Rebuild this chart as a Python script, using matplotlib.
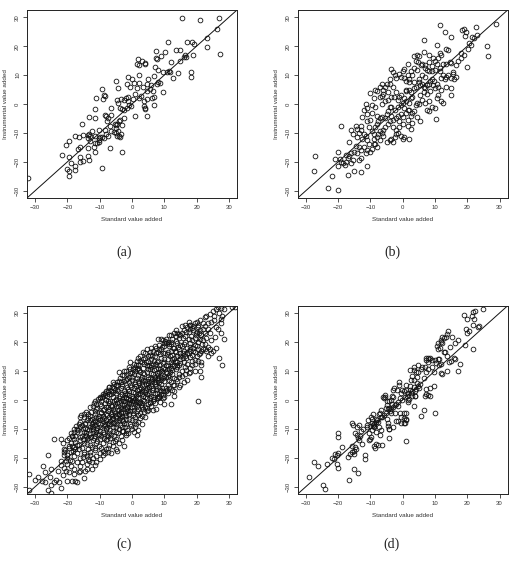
import matplotlib
matplotlib.use("Agg")
import matplotlib.pyplot as plt
import numpy as np

# ---- data (standard value added, instrumental value added) ----
pts_a = [
    (15.4, 29.7), (21.2, 28.9), (26.8, 29.7), (26.2, 26.0), (11.0, 21.4), (17.0, 21.4), (18.5, 21.3),
    (19.3, 20.6), (23.3, 22.7), (23.2, 19.6), (27.3, 17.4), (13.5, 18.8), (14.8, 18.8), (16.3, 17.0),
    (16.1, 16.2), (16.8, 16.3), (18.9, 16.8), (15.0, 15.0), (12.0, 14.4), (10.1, 17.9), (7.3, 18.2),
    (7.3, 15.8), (7.7, 15.7), (9.0, 16.5), (1.8, 15.7), (3.0, 14.8), (4.1, 14.3), (4.0, 13.9),
    (1.4, 14.0), (2.2, 13.4), (7.1, 12.9), (8.1, 11.6), (9.6, 11.0), (10.7, 11.2), (11.3, 11.5),
    (11.8, 11.0), (14.1, 10.8), (12.8, 8.9), (18.3, 10.9), (18.4, 9.2), (2.1, 10.0), (-1.3, 9.5),
    (0.0, 8.7), (-5.0, 7.8), (-1.5, 6.8), (-0.7, 6.0), (-4.2, 5.5), (0.7, 7.3), (1.4, 5.6),
    (2.1, 7.1), (3.3, 6.0), (5.1, 8.5), (6.8, 9.7), (6.0, 6.5), (4.5, 6.8), (5.7, 5.2), (4.5, 4.6),
    (6.4, 4.6), (7.6, 6.9), (8.0, 7.6), (8.6, 7.4), (9.6, 4.2), (6.1, 2.1), (6.8, 2.4), (2.3, 2.2),
    (2.9, 2.7), (3.7, 1.0), (4.6, 1.9), (0.9, 3.3), (0.3, 1.9), (-1.1, 2.4), (-1.8, 2.1), (-2.5, 1.3),
    (-3.3, 1.9), (-4.6, 1.3), (-4.4, 0.5), (-9.1, 1.9), (-8.8, 3.1), (-8.3, 2.7), (-9.4, 5.3),
    (-11.0, 2.2), (-1.2, 0.9), (-0.3, -0.7), (-1.0, -0.2), (3.8, -0.8), (4.0, -1.3), (4.1, -1.6),
    (6.7, -0.5), (-1.7, -1.4), (-3.7, -1.5), (-3.2, -1.8), (-2.6, -2.1), (-6.6, -1.5), (-11.4, -1.6),
    (0.8, -4.1), (4.5, -4.0), (-2.4, -4.8), (-13.4, -4.5), (-11.6, -5.0), (-8.3, -3.7), (-7.9, -4.2),
    (-7.3, -4.8), (-6.4, -3.9), (-7.6, -6.0), (-5.3, -6.9), (-5.0, -7.3), (-4.5, -6.9), (-4.0, -6.0),
    (-3.7, -5.5), (-3.0, -7.1), (-15.5, -6.9), (-6.7, -7.6), (-4.8, -8.4), (-4.2, -9.4), (-12.3, -9.4),
    (-10.1, -8.9), (-8.5, -8.9), (-6.5, -9.3), (-5.5, -9.6), (-5.1, -10.1), (-3.4, -10.4), (-3.9, -11.0),
    (-3.7, -11.5), (-4.6, -11.0), (-7.3, -10.9), (-7.9, -10.3), (-15.1, -10.8), (-13.7, -10.8),
    (-13.3, -10.5), (-13.0, -11.2), (-11.4, -11.2), (-10.3, -11.7), (-9.8, -11.5), (-9.2, -11.5),
    (-8.8, -11.7), (-17.7, -11.0), (-16.4, -11.5), (-13.7, -11.9), (-13.1, -12.7), (-11.3, -13.5),
    (-10.8, -13.5), (-10.3, -13.3), (-10.1, -12.6), (-11.9, -15.0), (-16.2, -14.8), (-16.8, -15.5),
    (-13.7, -15.2), (-6.9, -15.3), (-3.1, -16.5), (-11.6, -16.6), (-20.3, -14.1), (-19.6, -12.7),
    (-21.8, -17.5), (-19.6, -18.2), (-13.5, -17.9), (-13.4, -19.5), (-16.1, -18.4), (-16.2, -19.9),
    (-15.1, -19.6), (-18.8, -20.4), (-17.7, -21.6), (-17.5, -22.7), (-20.1, -22.5), (-19.6, -23.1),
    (-19.6, -25.0), (-9.4, -22.3), (-32.2, -25.5),
]

pts_b = [
    (11.5, 27.3), (13.2, 25.0), (18.5, 25.5), (19.0, 25.8), (19.5, 25.0), (22.8, 26.5), (29.0, 27.5),
    (19.2, 23.5), (21.5, 23.0), (22.0, 22.8), (23.0, 24.0), (20.5, 21.0), (21.0, 20.5), (26.0, 20.2),
    (15.0, 23.0), (6.5, 22.0), (10.5, 20.3), (13.5, 19.0), (14.0, 18.5), (12.0, 17.0), (8.0, 17.0),
    (9.5, 16.0), (6.7, 18.0), (4.5, 17.0), (3.5, 16.5), (5.0, 16.5), (4.0, 15.0), (4.8, 14.5),
    (5.8, 13.6), (12.5, 14.0), (13.3, 14.0), (14.5, 14.5), (14.8, 14.2), (16.5, 13.5), (17.0, 15.0),
    (18.0, 17.5), (19.0, 17.0), (18.0, 16.0), (19.8, 12.8), (26.5, 16.5), (20.2, 19.0), (11.0, 16.0),
    (10.0, 15.0), (9.2, 13.0), (11.5, 12.5), (11.5, 11.5), (10.0, 11.8), (9.0, 11.5), (8.0, 11.5),
    (7.5, 11.8), (7.0, 12.5), (4.3, 11.8), (3.5, 12.5), (2.5, 11.5), (3.0, 10.0), (1.5, 10.0),
    (2.0, 8.5), (1.0, 8.0), (0.0, 11.5), (0.5, 9.0), (-0.5, 9.5), (-1.0, 10.5), (-2.5, 10.0),
    (-3.5, 12.0), (-3.0, 11.0), (-2.0, 9.0), (-4.0, 8.5), (-5.0, 7.0), (-5.5, 6.0), (-6.0, 4.8),
    (-7.0, 5.8), (-8.0, 4.5), (-6.3, 2.8), (-7.0, 2.5), (-9.0, 2.0), (-10.2, 3.8), (-11.5, 0.0),
    (-12.0, -2.0), (-11.0, -1.5), (-9.5, -0.3), (-8.5, -1.0), (-6.5, 0.0), (-4.5, 1.5), (-5.5, 1.0),
    (-3.5, 2.5), (-2.8, 2.3), (-1.5, 1.5), (-1.0, 2.5), (-0.5, 3.0), (0.5, 2.0), (1.0, 1.0),
    (2.0, 0.5), (2.5, 2.0), (3.0, 2.5), (1.0, 4.5), (2.0, 5.0), (2.5, 4.0), (3.5, 5.5), (4.0, 6.0),
    (5.0, 7.5), (5.5, 6.5), (6.0, 7.0), (6.5, 6.0), (7.0, 5.5), (7.5, 6.5), (8.0, 7.0), (8.5, 8.0),
    (9.0, 8.5), (9.8, 8.0), (10.5, 7.0), (11.0, 6.0), (10.0, 5.5), (9.5, 6.5), (12.0, 9.0),
    (12.5, 10.0), (13.0, 8.5), (13.5, 9.5), (14.0, 10.0), (15.0, 9.0), (15.5, 10.5), (16.0, 8.5),
    (13.5, 6.0), (15.0, 5.5), (12.0, 5.0), (11.0, 3.0), (10.5, 2.0), (12.0, 1.0), (12.5, 0.5),
    (10.0, -1.5), (8.0, -2.5), (7.5, -2.0), (9.0, -1.0), (8.0, 1.0), (7.0, 0.5), (6.0, 1.5),
    (5.0, 0.0), (4.0, -0.5), (3.5, -2.5), (4.5, 0.5), (6.5, 4.0), (5.5, 3.0), (7.5, 3.5), (8.5, 4.5),
    (7.0, 9.5), (6.0, 10.0), (5.0, 8.5), (3.5, 7.5), (2.0, 7.5), (10.3, -5.3), (5.5, -6.0),
    (4.5, -4.5), (3.0, -6.5), (2.5, -8.5), (2.0, -12.0), (0.5, -11.5), (0.0, -12.0), (-0.5, -11.0),
    (-1.5, -10.0), (-2.0, -10.5), (-2.5, -11.5), (-3.5, -12.0), (-3.0, -13.0), (-4.0, -12.5),
    (-2.0, -9.0), (-1.0, -8.0), (0.0, -7.0), (1.5, -7.5), (1.5, -5.5), (2.5, -4.0), (3.0, -3.0),
    (0.0, -4.5), (-0.5, -3.5), (-1.5, -4.0), (-2.0, -5.0), (-3.0, -5.5), (-3.5, -4.0), (-4.0, -6.0),
    (-4.5, -7.0), (-5.5, -8.0), (-6.0, -9.0), (-6.5, -10.0), (-7.0, -9.5), (-7.5, -10.5),
    (-7.0, -12.5), (-8.0, -11.5), (-9.0, -12.0), (-8.5, -14.0), (-9.5, -15.5), (-8.0, -15.0),
    (-10.5, -14.0), (-11.0, -12.5), (-11.5, -11.0), (-12.0, -10.5), (-12.5, -12.0), (-13.0, -9.0),
    (-13.5, -10.0), (-14.0, -11.5), (-14.5, -7.5), (-14.0, -8.5), (-13.0, -7.5), (-12.5, -4.5),
    (-11.0, -6.0), (-10.0, -5.5), (-10.5, -8.0), (-9.5, -9.5), (-9.0, -10.5), (-8.5, -8.0),
    (-8.0, -7.0), (-7.5, -6.0), (-7.0, -5.0), (-6.5, -4.5), (-5.5, -5.0), (-5.0, -3.5), (-4.5, -2.5),
    (-4.0, -1.0), (-3.5, -1.0), (-2.5, -2.0), (-1.5, -1.0), (-0.5, -0.5), (0.5, -1.5), (1.5, -2.0),
    (-19.0, -7.5), (-16.0, -9.0), (-15.5, -10.5), (-16.5, -13.0), (-14.5, -14.5), (-13.5, -15.0),
    (-13.0, -16.0), (-14.0, -17.0), (-13.5, -19.5), (-13.0, -18.5), (-15.0, -16.5), (-16.0, -17.0),
    (-16.5, -18.0), (-17.0, -18.5), (-17.5, -17.5), (-15.5, -19.5), (-16.0, -20.5), (-17.5, -20.0),
    (-18.0, -21.0), (-18.5, -20.5), (-19.0, -20.0), (-20.0, -21.5), (-20.0, -16.5), (-21.0, -19.0),
    (-19.5, -19.0), (-11.0, -21.5), (-11.5, -17.0), (-11.0, -16.0), (-10.0, -16.5), (-9.0, -14.0),
    (-12.0, -15.0), (-17.0, -24.5), (-15.0, -23.0), (-13.0, -23.5), (-27.0, -18.0), (-27.5, -23.0),
    (-22.0, -25.0), (-23.0, -29.0), (-20.0, -29.8), (-6.0, -11.0), (-5.0, -13.0), (-3.0, -8.0),
    (-1.0, -6.0), (1.0, -3.0), (2.0, -2.0), (0.0, 0.5), (1.0, 5.0), (-2.0, 4.0), (-3.0, 6.0),
    (-4.5, 4.0), (-6.0, 3.5), (-9.5, -3.0), (-8.0, -4.0), (-11.0, -3.5), (-6.5, 7.0), (-4.0, 7.0),
    (-8.5, 4.8), (1.5, 14.0), (0.5, 12.0), (6.0, 14.0), (15.5, 11.0), (16.5, 9.5), (15.0, 3.0),
    (10.5, 14.0), (8.0, 14.5), (7.0, 13.5), (11.5, 17.5),
]

pts_c = [
    # sparse edge points
    (26.5, 32.0), (27.5, 31.8), (28.5, 31.5), (31.0, 32.0), (32.0, 32.0), (25.0, 30.5), (26.0, 31.5),
    (27.0, 30.0), (28.0, 29.0), (27.5, 28.0), (24.5, 27.0), (25.5, 27.5), (23.5, 26.5), (26.0, 25.0),
    (27.5, 26.5), (21.0, 27.5), (22.0, 26.5), (20.0, 27.0), (20.5, 26.0), (22.0, 24.5), (21.5, 22.5),
    (22.5, 23.0), (23.5, 24.5), (24.0, 23.0), (28.5, 21.0), (27.5, 23.0), (26.0, 18.0), (25.0, 17.0),
    (24.0, 17.5), (23.0, 17.0), (22.0, 17.5), (21.5, 17.0), (20.5, 17.5), (21.0, 16.0), (23.5, 15.0),
    (24.5, 16.0), (27.0, 14.5), (28.0, 12.0), (21.5, 13.0), (21.5, 12.0), (21.0, 10.0), (21.5, 8.0),
    (19.5, 10.0), (18.0, 11.0), (20.3, -0.3), (17.0, 7.0), (16.0, 6.0), (15.0, 5.0), (14.5, 4.5),
    (13.0, 3.0), (13.0, 1.5), (12.0, -1.5), (10.0, -1.5), (9.0, 3.0), (8.5, 1.0), (7.5, -3.0),
    (6.5, -3.5), (5.0, -3.5), (4.0, -6.0), (3.0, -8.5), (2.0, -10.5), (1.5, -12.0), (1.0, -9.5),
    (0.0, -10.0), (-2.0, -11.5), (-3.5, -12.5), (-3.0, -14.0), (-4.0, -15.0), (-2.5, -16.0),
    (-4.5, -17.5), (-5.0, -17.0), (-6.5, -18.5), (-7.5, -18.0), (-9.0, -19.0), (-10.0, -20.5),
    (-11.0, -21.5), (-11.5, -22.5), (-11.0, -19.5), (-13.0, -19.0), (-13.5, -20.5), (-12.5, -24.0),
    (-14.5, -24.5), (-15.0, -27.0), (-16.0, -24.5), (-16.5, -25.0), (-18.0, -25.5), (-17.5, -28.0),
    (-17.0, -28.5), (-18.5, -28.0), (-19.5, -25.0), (-20.5, -24.5), (-20.0, -28.0), (-21.5, -26.0),
    (-22.0, -30.5), (-22.5, -28.5), (-23.5, -27.5), (-24.0, -28.5), (-25.0, -29.5), (-25.5, -26.5),
    (-25.0, -32.0), (-26.0, -31.0), (-27.0, -25.0), (-27.5, -23.0), (-27.0, -28.5), (-28.0, -28.0),
    (-29.0, -26.5), (-30.0, -27.5), (-32.0, -25.5), (-32.0, -31.0), (-25.0, -24.0), (-26.0, -19.0),
    (-24.0, -13.5), (-22.0, -21.0), (-21.0, -19.0), (-21.0, -17.0), (-21.5, -15.0), (-22.0, -13.5),
    (-20.0, -20.0), (-19.5, -16.0), (-18.5, -12.5), (-18.0, -11.0), (-17.0, -10.0), (-16.0, -6.0),
    (-15.0, -5.0), (-14.5, -8.0), (-13.0, -7.0), (-11.5, -0.5), (-11.0, -1.5), (-10.0, 1.0),
    (-9.0, 2.0), (-8.0, 3.0), (-7.5, 3.5), (-7.0, 4.5), (-6.5, 2.0), (-5.5, 5.5), (-4.5, 5.0),
    (-3.5, 6.0), (-2.0, 10.0), (-1.0, 8.0), (0.0, 9.5), (1.0, 10.0), (2.0, 12.0), (2.5, 13.5),
    (2.0, 14.5), (3.5, 14.0), (4.0, 16.0), (5.0, 15.0), (6.0, 18.0), (7.0, 18.5), (8.5, 19.0),
    (9.0, 21.0), (10.0, 19.5), (11.0, 20.0), (12.0, 22.5), (13.0, 23.0), (13.5, 24.0), (14.0, 23.0),
    (15.0, 22.5), (16.0, 24.0), (17.0, 25.0), (17.5, 27.0), (18.0, 26.0), (19.0, 25.5),
    # dense band
    (24.0, 29.5), (25.5, 29.0), (22.5, 28.5), (23.0, 29.0), (19.5, 26.5), (20.5, 25.0), (18.0, 24.5),
    (22.5, 25.5), (19.0, 24.0), (16.5, 26.0), (15.5, 25.5), (21.0, 24.0), (17.5, 23.5), (20.0, 23.5),
    (23.0, 21.5), (12.5, 21.0), (13.5, 22.0), (14.5, 21.5), (15.5, 23.0), (16.5, 22.0), (17.5, 21.0),
    (18.5, 20.5), (19.5, 21.5), (11.5, 22.5), (10.5, 21.0), (12.0, 20.0), (14.0, 19.5), (15.0, 19.0),
    (16.5, 20.0), (18.0, 19.5), (19.5, 19.0), (20.5, 20.0), (21.0, 21.0), (22.0, 20.5), (9.5, 20.5),
    (8.0, 21.0), (10.5, 19.5), (6.5, 17.0), (7.5, 18.0), (8.0, 16.5), (9.0, 17.5), (10.0, 18.5),
    (11.0, 16.5), (12.0, 17.0), (13.0, 18.0), (13.5, 16.5), (14.5, 17.5), (15.5, 18.5), (16.0, 17.0),
    (17.0, 18.0), (18.0, 17.0), (19.0, 18.0), (20.0, 18.5), (17.5, 16.0), (15.0, 16.0), (11.5, 18.5),
    (9.5, 16.0), (5.5, 16.5), (4.5, 17.5), (3.5, 16.5), (12.5, 15.5), (14.0, 15.0), (16.5, 15.0),
    (18.5, 15.5), (19.5, 16.5), (20.0, 15.0), (22.5, 17.5), (3.0, 13.0), (4.0, 14.5), (5.0, 13.5),
    (6.0, 14.0), (7.0, 15.0), (8.0, 13.5), (9.0, 14.5), (10.0, 13.0), (11.0, 14.0), (12.0, 13.0),
    (13.0, 14.5), (14.0, 13.0), (15.0, 14.0), (16.0, 13.0), (17.0, 12.5), (18.5, 13.5), (19.5, 12.5),
    (20.5, 13.5), (1.5, 13.5), (2.5, 15.0), (4.5, 12.0), (6.5, 12.5), (8.5, 12.0), (10.5, 12.0),
    (12.5, 12.5), (14.5, 12.0), (16.5, 11.5), (0.5, 12.5), (-0.5, 13.0), (5.5, 15.5), (7.5, 12.5),
    (9.5, 12.8), (-2.5, 10.0), (-1.5, 9.0), (-0.5, 10.5), (0.5, 9.0), (1.5, 10.5), (2.5, 9.5),
    (3.5, 11.0), (4.5, 9.5), (5.5, 10.5), (6.5, 9.0), (7.5, 10.5), (8.5, 9.5), (9.5, 11.0),
    (10.5, 9.5), (11.5, 10.5), (12.5, 9.0), (13.5, 10.5), (14.5, 9.0), (15.5, 10.0), (16.5, 9.0),
    (18.0, 9.5), (-1.0, 11.5), (1.0, 11.5), (3.0, 8.0), (5.0, 8.0), (7.0, 8.0), (9.0, 8.0),
    (11.0, 8.0), (13.0, 7.5), (0.0, 8.0), (-3.0, 8.5), (2.0, 11.0), (6.0, 11.5), (8.0, 11.0),
    (12.0, 11.0), (-4.0, 9.5), (-6.0, 6.0), (-5.0, 5.0), (-4.0, 6.5), (-3.0, 5.5), (-2.0, 7.0),
    (-1.0, 6.0), (0.0, 7.0), (1.0, 5.5), (2.0, 6.5), (3.0, 5.0), (4.0, 6.5), (5.0, 5.0), (6.0, 6.5),
    (7.0, 5.5), (8.0, 7.0), (9.0, 5.5), (10.0, 6.5), (11.0, 5.0), (12.0, 6.0), (13.0, 5.0),
    (14.0, 6.5), (-5.5, 4.0), (-3.5, 4.0), (-1.5, 4.5), (0.5, 4.0), (2.5, 4.5), (4.5, 4.0),
    (6.5, 4.0), (8.5, 4.5), (10.5, 4.0), (12.5, 3.5), (-7.0, 4.5), (-2.5, 6.5), (1.5, 7.5),
    (3.5, 7.0), (5.5, 7.5), (9.5, 7.5), (-0.5, 5.0), (7.5, 6.0), (11.5, 7.0), (-10.0, 0.5),
    (-9.0, 1.5), (-8.0, 0.0), (-7.0, 2.0), (-6.0, 1.0), (-5.0, 2.5), (-4.0, 0.5), (-3.0, 2.0),
    (-2.0, 1.0), (-1.0, 3.0), (0.0, 1.5), (1.0, 2.5), (2.0, 0.5), (3.0, 2.0), (4.0, 1.0), (5.0, 3.0),
    (6.0, 1.5), (7.0, 2.5), (8.0, 0.5), (9.0, 2.0), (10.0, 1.0), (11.0, 2.5), (-8.5, 2.5),
    (-6.5, 3.0), (-4.5, 3.5), (-2.5, 3.0), (-0.5, 0.0), (1.5, 3.5), (3.5, 0.0), (5.5, 0.5),
    (7.5, 3.5), (9.5, 3.0), (-9.5, -0.5), (-7.5, -0.5), (-5.5, -0.5), (-3.5, -0.5), (-1.5, 2.0),
    (0.5, -0.5), (2.5, 2.5), (4.5, 2.0), (6.5, -0.5), (8.5, 1.5), (-12.0, -2.0), (-11.0, -3.0),
    (-10.0, -1.5), (-9.0, -3.5), (-8.0, -2.5), (-7.0, -1.0), (-6.0, -3.0), (-5.0, -2.0),
    (-4.0, -3.5), (-3.0, -1.5), (-2.0, -3.0), (-1.0, -1.0), (0.0, -2.5), (1.0, -1.5), (2.0, -3.0),
    (3.0, -1.0), (4.0, -2.5), (5.0, -1.5), (6.0, -2.0), (-11.5, -4.0), (-9.5, -2.0), (-7.5, -4.0),
    (-5.5, -4.0), (-3.5, -2.5), (-1.5, -4.0), (0.5, -3.5), (2.5, -4.5), (4.5, -4.0), (-8.5, -1.0),
    (-6.5, -2.0), (-4.5, -1.0), (-2.5, -0.5), (1.5, -0.5), (3.5, -3.0), (7.0, -1.0), (-15.0, -6.0),
    (-14.0, -7.0), (-13.0, -5.5), (-12.0, -7.5), (-11.0, -6.0), (-10.0, -7.0), (-9.0, -5.5),
    (-8.0, -7.0), (-7.0, -6.0), (-6.0, -7.5), (-5.0, -5.5), (-4.0, -7.0), (-3.0, -5.5), (-2.0, -6.5),
    (-1.0, -5.0), (0.0, -7.0), (1.0, -6.0), (2.0, -7.5), (-14.5, -8.5), (-12.5, -8.5), (-10.5, -8.0),
    (-8.5, -8.5), (-6.5, -5.0), (-4.5, -8.5), (-2.5, -8.0), (-0.5, -8.5), (-13.5, -5.0),
    (-11.5, -5.0), (-9.5, -4.5), (-7.5, -8.0), (-3.5, -4.5), (3.0, -5.5), (-16.0, -7.5),
    (-18.0, -10.0), (-17.0, -11.0), (-16.0, -9.5), (-15.0, -11.0), (-14.0, -10.0), (-13.0, -11.5),
    (-12.0, -10.0), (-11.0, -11.0), (-10.0, -9.5), (-9.0, -11.0), (-8.0, -10.0), (-7.0, -11.5),
    (-6.0, -9.5), (-5.0, -11.0), (-4.0, -10.0), (-3.0, -9.5), (-1.5, -10.5), (-17.5, -12.5),
    (-15.5, -12.5), (-13.5, -13.0), (-11.5, -12.5), (-9.5, -12.5), (-7.5, -12.5), (-5.5, -12.5),
    (-16.5, -8.5), (-12.5, -9.0), (-8.5, -9.0), (-6.5, -8.5), (-19.0, -11.5), (-2.0, -12.0),
    (0.5, -11.0), (-20.0, -14.0), (-19.0, -15.0), (-18.0, -13.5), (-17.0, -15.5), (-16.0, -14.0),
    (-15.0, -15.0), (-14.0, -13.5), (-13.0, -15.5), (-12.0, -14.0), (-11.0, -15.0), (-10.0, -13.5),
    (-9.0, -15.0), (-8.0, -14.0), (-7.0, -15.5), (-6.0, -14.5), (-5.0, -13.5), (-19.5, -16.5),
    (-17.5, -17.0), (-15.5, -16.5), (-13.5, -17.0), (-11.5, -16.5), (-9.5, -16.5), (-7.5, -16.5),
    (-6.0, -16.0), (-18.5, -12.5), (-14.5, -12.0), (-10.5, -12.0), (-21.0, -18.0), (-20.0, -19.0),
    (-19.0, -18.0), (-18.0, -19.5), (-17.0, -18.5), (-16.0, -20.0), (-15.0, -18.0), (-14.0, -19.5),
    (-13.0, -18.0), (-12.0, -20.0), (-10.0, -18.5), (-8.5, -18.5), (-18.5, -21.0), (-17.0, -21.5),
    (-15.5, -21.5), (-14.0, -22.0), (-20.5, -21.0), (-16.5, -17.0), (-12.5, -21.5), (-22.0, -22.5),
    (-21.0, -23.5), (-19.0, -23.0), (-18.0, -24.0), (-16.0, -23.0), (-14.0, -24.0), (-23.0, -24.5),
    (-20.0, -22.0),
    # extra core points
    (-9.3, -6.7), (-8.2, -4.8), (-7.1, -3.3), (-6.3, -5.7), (-5.2, -4.6), (-4.4, -2.2), (-3.3, -4.1),
    (-2.6, -1.8), (-1.7, -2.3), (-0.8, -0.7), (0.3, 0.8), (1.2, 1.4), (2.2, 3.7), (3.2, 3.1),
    (4.2, 5.3), (5.3, 4.4), (6.2, 7.3), (7.2, 7.1), (8.2, 8.6), (9.2, 9.9), (10.3, 10.8), (11.2, 11.7),
    (12.3, 14.2), (13.2, 13.3), (-10.3, -5.6), (-11.3, -8.7), (-12.2, -9.3), (-13.3, -10.4),
    (-14.2, -11.3), (-15.3, -13.6), (-16.2, -12.8), (-8.8, -11.7), (-7.6, -9.2), (-6.7, -10.4),
    (-5.6, -8.1), (-4.7, -6.3), (-3.8, -8.8), (-2.8, -7.2), (-1.8, -5.3), (-0.6, -3.9), (0.4, -4.7),
    (1.4, -2.2), (2.4, -0.8), (3.4, 1.3), (4.4, 3.4), (5.4, 2.2), (6.4, 3.3), (7.4, 4.8), (8.4, 6.2),
    (9.4, 4.2), (10.4, 7.8), (11.4, 8.7), (12.4, 10.2), (-4.2, 3.1), (-3.2, 4.7), (-2.2, 2.2),
    (-1.2, 3.8), (-0.2, 4.4), (0.8, 6.3), (1.8, 8.7), (2.8, 7.3), (3.8, 8.8), (4.8, 7.2), (5.8, 9.3),
    (6.8, 10.2), (7.8, 9.2), (8.8, 10.7), (-7.8, 1.2), (-6.8, -0.3), (-5.8, 2.8), (-4.8, 0.3),
    (-3.8, 1.2), (-2.8, -0.3), (-1.8, 0.7), (-0.8, 1.8), (0.2, 2.6), (1.2, 4.7), (2.2, 5.8),
    (3.2, 6.2), (-10.8, -9.8), (-9.8, -8.2), (-8.8, -6.2), (-7.8, -5.3), (-6.8, -7.2), (-5.8, -6.3),
    (-4.8, -9.3), (-3.8, -6.2), (-2.8, -10.7), (-1.8, -8.2), (-0.8, -6.7), (0.2, -5.2), (1.2, -8.3),
    (-12.8, -12.7), (-11.8, -13.3), (-10.8, -14.2), (-9.8, -10.7), (-8.8, -13.3), (-7.8, -12.2),
    (-6.8, -13.2), (-5.8, -10.7), (13.8, 11.3), (14.8, 15.3), (15.8, 16.2), (16.8, 14.3),
    (17.8, 14.8), (18.8, 16.7), (13.3, 16.7), (11.8, 15.3), (10.8, 15.7), (9.8, 14.2), (8.8, 15.7),
    (7.8, 13.2), (6.8, 13.3), (5.8, 12.2), (4.8, 10.7), (3.8, 12.3), (19.8, 23.2), (18.2, 22.2),
    (16.2, 19.2), (14.2, 18.2), (12.2, 19.2), (10.2, 16.2),
    (-8.6, -3.1), (-7.3, -2.4), (-6.1, -4.2), (-5.4, -1.3), (-4.1, -5.1), (-3.4, -3.2), (-2.3, -4.4),
    (-1.4, -2.9), (-0.3, -1.6), (0.6, -2.3), (1.7, -3.8), (2.7, -1.9), (3.6, -0.4), (4.7, 0.7),
    (5.7, -0.9), (6.7, 0.2), (7.8, 2.2), (8.7, 3.4), (9.7, 0.6), (10.6, 2.9), (-9.7, -4.3),
    (-10.7, -2.7), (-11.6, -6.8), (-12.6, -4.1), (-13.6, -6.3), (-14.7, -9.7), (-15.6, -8.8),
    (-16.7, -10.4), (-17.6, -14.6), (-18.7, -16.1), (-19.6, -13.2), (-17.2, -9.1), (-15.8, -5.3),
    (-14.3, -4.2), (-12.9, -2.6), (-11.8, -1.2), (-10.6, 0.2), (-9.4, 0.9), (-8.3, 1.8), (-7.4, 2.7),
    (-6.3, 4.3), (-5.3, 3.4), (-4.6, 6.3), (-3.7, 7.4), (-2.6, 8.7), (-1.6, 7.2), (-0.7, 9.3),
    (0.4, 10.6), (1.3, 12.2), (2.3, 10.2), (3.3, 9.3), (4.3, 13.1), (5.2, 11.8), (6.3, 15.2),
    (7.3, 16.3), (8.3, 17.6), (9.3, 18.3), (10.2, 20.2), (11.3, 19.3), (12.7, 17.8), (13.7, 20.3),
    (14.6, 22.6), (15.7, 21.3), (16.7, 23.4), (17.8, 25.7), (18.6, 24.7), (19.7, 22.4), (20.7, 23.1),
    (21.6, 19.2), (22.7, 19.3), (23.6, 18.4), (24.3, 20.8), (25.8, 21.7), (26.7, 24.3),
    (-7.7, -13.6), (-6.4, -12.1), (-5.2, -14.2), (-4.4, -11.3), (-3.2, -10.6), (-2.3, -9.2),
    (-1.2, -11.6), (-0.2, -8.9), (0.9, -7.2), (1.8, -5.1), (2.6, -6.3), (3.7, -4.1), (4.6, -2.7),
    (5.6, -1.2), (6.6, 1.1), (7.6, 0.8), (8.6, -0.7), (9.6, 1.7), (10.7, 3.3), (11.6, 4.1),
    (12.6, 5.2), (13.6, 7.1), (14.7, 7.8), (15.6, 8.2), (16.6, 10.3), (17.6, 9.2), (18.6, 11.9),
    (19.4, 13.6), (20.6, 15.7), (-13.8, -15.1), (-12.4, -16.2), (-11.3, -17.3), (-10.2, -15.9),
    (-9.1, -17.6), (-8.2, -16.9), (-14.8, -18.7), (-16.3, -15.6), (-17.8, -16.2), (-18.2, -17.6),
    (-19.3, -20.6), (-20.6, -17.4), (-15.2, -19.6), (-13.2, -21.1), (-6.2, -2.1), (-5.1, -0.2),
    (-3.1, 0.3), (-2.1, 1.6), (-1.1, 0.4), (0.9, 0.2), (1.9, 1.9), (2.9, 4.1), (3.9, 2.8), (4.9, 5.9),
    (5.9, 4.8), (6.9, 6.1), (7.9, 7.4), (8.9, 6.8), (9.9, 8.4), (10.9, 9.1), (11.9, 9.7),
    (12.9, 11.6), (13.9, 12.1), (14.9, 12.8), (15.9, 14.6), (16.9, 16.2), (17.9, 18.4),
    (-8.1, -9.6), (-7.1, -8.3), (-6.1, -6.6), (-5.1, -7.4), (-4.1, -4.9), (-3.1, -6.8), (-2.1, -5.7),
    (-1.1, -3.4), (-0.1, -0.3), (1.1, -0.9), (2.1, -1.2), (3.1, -2.4), (-10.1, -11.7),
    (-11.1, -10.3), (-12.1, -11.4), (-13.1, -9.3), (-14.1, -12.6), (-15.1, -10.2), (-9.1, -7.3),
    (-10.4, -6.4), (-11.4, -7.6), (-12.3, -6.6),
]

pts_d = [
    (24.7, 31.2), (22.4, 30.7), (21.8, 30.3), (18.9, 29.4), (21.5, 28.8), (22.1, 28.0), (20.0, 27.8),
    (21.7, 26.0), (19.5, 24.5), (20.4, 23.9), (19.9, 23.1), (23.5, 25.4), (23.2, 25.1), (21.8, 17.7),
    (19.2, 18.8), (17.8, 12.4), (17.2, 10.0), (16.3, 14.1), (16.0, 14.4), (16.3, 19.7), (17.0, 20.6),
    (15.4, 21.6), (13.9, 23.6), (13.8, 22.6), (13.4, 21.8), (12.1, 21.8), (11.8, 20.6), (12.0, 20.0),
    (10.9, 19.5), (10.7, 18.6), (11.0, 17.4), (11.6, 17.9), (12.9, 16.6), (13.2, 16.5), (14.5, 18.2),
    (14.4, 13.2), (13.8, 9.9), (11.7, 9.1), (11.2, 12.1), (10.9, 14.0), (11.3, 14.1), (10.1, 13.8),
    (9.8, 9.6), (9.1, 11.3), (8.1, 14.0), (7.8, 14.6), (7.2, 13.6), (7.1, 14.3), (7.9, 13.1),
    (6.8, 11.4), (7.7, 10.6), (7.3, 9.7), (6.7, 7.5), (5.6, 10.6), (4.8, 12.1), (3.5, 11.4),
    (3.4, 10.4), (2.2, 10.3), (4.1, 9.5), (2.9, 8.4), (2.6, 7.0), (4.4, 7.9), (4.3, 5.8), (4.6, 4.7),
    (5.2, 5.5), (5.0, 4.2), (7.3, 3.6), (8.5, 4.0), (9.6, 4.8), (7.2, 2.1), (7.7, 1.7), (8.5, 1.5),
    (7.0, 1.3), (6.5, -3.5), (5.8, -5.7), (9.9, -4.6), (3.4, -2.2), (1.1, -14.1), (0.7, -7.9),
    (1.0, -7.0), (0.4, -8.1), (-0.6, -8.0), (-0.5, -5.9), (0.5, -4.7), (0.9, -4.4), (1.6, 2.3),
    (1.7, 0.1), (1.2, 1.5), (0.7, 1.1), (-0.1, 0.1), (-0.8, 0.7), (-0.4, 2.4), (-0.2, 3.3),
    (0.4, 3.1), (0.9, 3.5), (2.2, 3.3), (2.9, 3.1), (2.7, 2.3), (3.8, 3.0), (3.7, 1.5), (-1.3, 6.0),
    (-1.0, 5.0), (-1.7, 3.5), (-3.0, 3.3), (-2.7, 4.0), (-3.3, 1.5), (-3.0, 1.0), (-1.6, -0.8),
    (-2.2, -1.5), (-1.4, -2.2), (-2.5, -1.7), (-2.9, -2.4), (-3.5, -3.1), (-4.1, -2.7), (-4.6, -3.3),
    (-5.1, -2.9), (-5.0, -1.9), (-4.8, -0.3), (-5.5, 0.9), (-5.7, 0.7), (-3.2, -1.3), (-3.6, -0.2),
    (-4.3, -0.5), (-4.0, -4.0), (-3.5, -4.7), (-5.2, -4.7), (-5.9, -5.4), (-6.6, -3.4), (-7.2, -4.9),
    (-6.4, -6.0), (-6.7, -6.0), (-4.8, -6.5), (-4.6, -7.9), (-4.5, -9.0), (-4.1, -9.9), (-4.3, -10.1),
    (-4.2, -13.1), (-8.0, -7.1), (-8.3, -7.8), (-8.8, -9.0), (-9.2, -8.7), (-9.5, -7.9), (-8.9, -8.2),
    (-10.2, -9.0), (-10.7, -7.1), (-11.2, -8.8), (-9.6, -10.3), (-10.3, -11.5), (-9.7, -12.9),
    (-10.1, -13.6), (-10.4, -13.7), (-8.5, -16.5), (-8.3, -15.4), (-7.6, -15.6), (-6.4, -15.5),
    (-6.9, -12.3), (-8.9, -16.0), (-8.2, -11.1), (-11.1, -9.4), (-9.8, -6.0), (-9.2, -5.0),
    (-12.3, -9.9), (-12.8, -10.7), (-13.4, -8.8), (-14.1, -9.4), (-15.6, -8.0), (-15.3, -8.8),
    (-14.2, -12.1), (-14.9, -11.4), (-13.9, -13.1), (-13.6, -13.9), (-13.1, -12.5), (-12.7, -15.3),
    (-14.4, -17.0), (-14.8, -16.2), (-15.7, -16.0), (-15.7, -18.1), (-15.2, -17.7), (-15.0, -18.6),
    (-16.4, -18.8), (-17.0, -19.6), (-15.1, -23.7), (-13.9, -25.1), (-16.5, -27.8), (-11.8, -19.0),
    (-11.6, -20.4), (-20.1, -11.5), (-19.9, -12.9), (-18.8, -16.4), (-19.9, -18.5), (-20.4, -18.9),
    (-21.0, -18.7), (-21.9, -20.0), (-21.4, -20.5), (-20.4, -22.3), (-20.0, -23.5), (-23.4, -22.2),
    (-26.3, -22.9), (-27.5, -21.4), (-29.1, -26.7), (-24.6, -29.4), (-23.9, -30.8), (-6.0, 0.9),
    (-5.6, 1.6), (-6.9, -4.4), (-7.8, -7.8), (-7.3, -9.2), (-6.7, -10.3), (-8.2, -6.6), (-8.9, -9.4),
    (-9.4, -6.7), (-2.9, -9.2), (-2.1, -7.3), (1.1, -6.7), (-0.9, -4.4), (-2.3, -4.7), (-1.4, -7.3),
    (0.4, -6.2), (1.7, -0.8), (2.1, 0.2), (2.9, 1.3), (3.9, 1.3), (3.4, 4.3), (4.0, 3.6), (2.4, 4.9),
    (1.0, 5.1), (3.5, 7.0), (4.7, 9.7), (5.9, 11.2), (8.6, 14.3), (9.0, 13.8), (10.2, 12.7),
    (11.9, 12.4), (12.3, 9.0), (12.3, 19.5), (12.9, 21.2), (13.6, 15.2), (14.9, 13.4),
]

panels = [pts_a, pts_b, pts_c, pts_d]
captions = ["(a)", "(b)", "(c)", "(d)"]
ticks = [-30, -20, -10, 0, 10, 20, 30]

W, H = 509, 563
fig = plt.figure(figsize=(W / 100, H / 100), dpi=100)

# axes boxes in pixels: left, top, right, bottom
boxes = [(27, 10, 237, 198), (297.7, 10, 507.7, 198),
         (27, 305.7, 237, 494), (297.7, 305.7, 507.7, 494)]
cap_pos = [(124, 252), (392, 252), (124, 544), (392, 544)]

sans = "Liberation Sans"
for pts, (l, t, r, b), cap, (cx, cy) in zip(panels, boxes, captions, cap_pos):
    ax = fig.add_axes([l / W, 1 - b / H, (r - l) / W, (b - t) / H])
    xy = np.array(pts)
    ax.plot(xy[:, 0], xy[:, 1], linestyle="none", marker="o", markersize=3.4,
            markerfacecolor="none", markeredgecolor="#111111", markeredgewidth=0.6)
    ax.axline((0, 0), slope=1, color="#111111", linewidth=0.7)
    ax.set_xlim(-32.5, 32.5)
    ax.set_ylim(-32.5, 32.5)
    ax.set_xticks(ticks)
    ax.set_yticks(ticks)
    ax.tick_params(length=3, width=0.6, pad=2, labelsize=4.3, colors="#333333")
    for lab in ax.get_xticklabels():
        lab.set_fontfamily(sans)
    for lab in ax.get_yticklabels():
        lab.set_fontfamily(sans)
        lab.set_rotation(90)
        lab.set_va("center")
    for sp in ax.spines.values():
        sp.set_linewidth(0.7)
        sp.set_color("#222222")
    ax.set_xlabel("Standard value added", fontsize=4.5, family=sans, color="#333333", labelpad=5)
    ax.set_ylabel("Instrumental value added", fontsize=4.5, family=sans, color="#333333", labelpad=5)
    fig.text(cx / W, 1 - cy / H, cap, ha="center", va="center", fontsize=10,
             family="Liberation Serif", color="#222222")

fig.savefig("out.png", dpi=100)
